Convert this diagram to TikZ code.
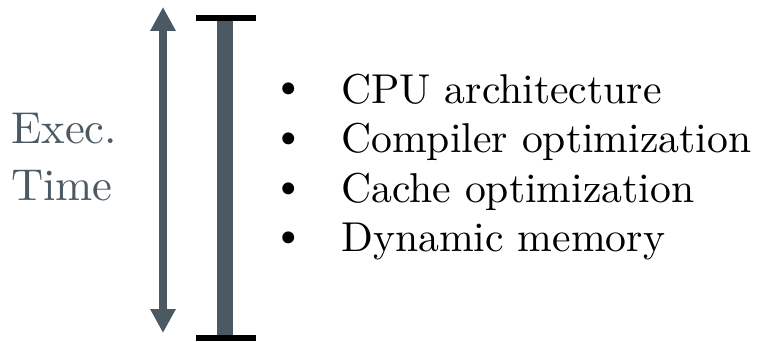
\documentclass[tikz,border=0pt]{standalone}
\usepackage{fontspec}
\setmainfont{lmroman10-regular}[Extension=.otf]
\usetikzlibrary{arrows.meta}
\definecolor{slate}{HTML}{4B5A62}
\tikzset{
  lbl/.style={inner sep=0pt, anchor=base west, font=\rmfamily\fontsize{44.6}{46}\selectfont, text=slate},
  item/.style={inner sep=0pt, anchor=base west, font=\rmfamily\fontsize{41.7}{42}\selectfont, text=black},
  dot/.style={inner sep=0pt, anchor=base, font=\rmfamily\fontsize{41.7}{42}\selectfont, text=black},
  spanarrow/.style={draw=slate, line width=8pt, {Triangle[width=24pt,length=24pt]}-{Triangle[width=24pt,length=24pt]}},
  barfill/.style={fill=slate},
  endcap/.style={fill=black}
}
\begin{document}
\begin{tikzpicture}[x=1pt, y=-1pt]
  \useasboundingbox (0,0) rectangle (757,342);
  % double-headed time arrow
  \coordinate (atop) at (163,7);
  \coordinate (abot) at (163,333);
  \draw[spanarrow] (atop) -- (abot);
  % thick bar with black end caps
  \coordinate (bartl) at (217,21);
  \coordinate (barbr) at (233,335);
  \fill[barfill] (bartl) rectangle (barbr);
  \coordinate (captl) at (196,15);
  \coordinate (capbr) at (256,21);
  \fill[endcap] (captl) rectangle (capbr);
  \coordinate (cbtl) at (196,335);
  \coordinate (cbbr) at (256,341);
  \fill[endcap] (cbtl) rectangle (cbbr);
  % axis label
  \node[lbl] (exec) at (11,143) {Exec.};
  \node[lbl] (time) at (11,200) {Time};
  % bullet list
  \node[dot] (b1) at (289,99) {\textbullet};
  \node[item] (t1) at (341,103) {CPU architecture};
  \node[dot] (b2) at (289,148.5) {\textbullet};
  \node[item] (t2) at (341,152.5) {Compiler optimization};
  \node[dot] (b3) at (289,198) {\textbullet};
  \node[item] (t3) at (341,202) {Cache optimization};
  \node[dot] (b4) at (289,247.5) {\textbullet};
  \node[item] (t4) at (341,251.5) {Dynamic memory};
\end{tikzpicture}
\end{document}
